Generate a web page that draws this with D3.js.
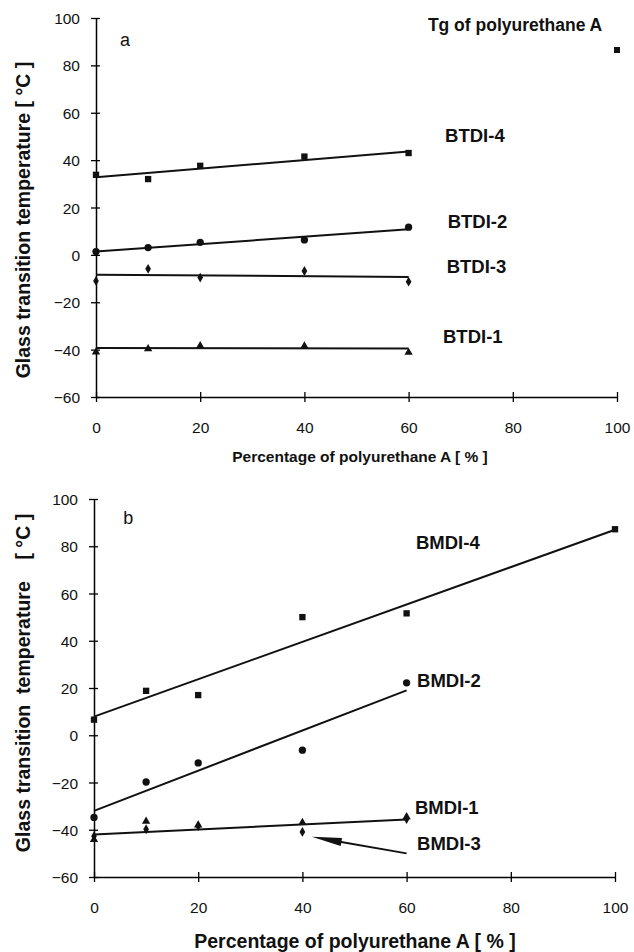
<!DOCTYPE html>
<html>
<head>
<meta charset="utf-8">
<script src="https://cdn.jsdelivr.net/npm/d3@7"></script>
<style>
  body { margin: 0; background: #fff; }
  text { font-family: "Liberation Sans", Arial, sans-serif; fill: #111; }
</style>
</head>
<body>
<div class="root"></div>
<script>
// data
var xs = [0, 10, 20, 40, 60];
var xTicks = [0, 20, 40, 60, 80, 100];
var yTicks = [-60, -40, -20, 0, 20, 40, 60, 80, 100];

var btdi4 = [33.8, 32, 37.6, 41.5, 43];
var btdi2 = [1.4, 3.1, 5.3, 6.3, 11.7];
var btdi3 = [-11, -5.9, -9.6, -6.8, -11.3];
var btdi1 = [-41, -39.7, -38.4, -38.5, -41.2];
var tgA = [100, 86.5];

var btdi4Fit = [32.8, 43.6];
var btdi2Fit = [1.4, 10.8];
var btdi3Fit = [-8.4, -9.3];
var btdi1Fit = [-39.3, -39.5];

var bmdi4 = [6.6, 18.8, 17, 50, 51.6, 87.2];
var bmdi4X = [0, 10, 20, 40, 60, 100];
var bmdi2 = [-34.8, -19.8, -11.7, -6.3, 22.2];
var bmdi1 = [-44.2, -36.4, -38, -37, -34.5];
var bmdi3 = [-42.7, -39.8, -38.4, -40.9, -35.5];

var bmdi4Fit = [7.9, 87];
var bmdi2Fit = [-32, 19];
var bmdi1Fit = [-42, -35.7];

var svg = d3.select('.root').append('svg')
            .attr("width", 634)
            .attr("height", 952);

function markerPath(type, size) {
  var sym = { square: d3.symbolSquare, circle: d3.symbolCircle,
              diamond: d3.symbolDiamond, triangle: d3.symbolTriangle }[type];
  return d3.symbol().type(sym).size(size)();
}

function drawPanel(p) {
  var x = d3.scaleLinear().domain([0, 100]).range([p.x0, p.x1]);
  var y = d3.scaleLinear().domain([-60, 100]).range([p.y0, p.y1]);
  var g = svg.append('g');

  var yAxis = g.append('g')
               .attr("transform", "translate(" + p.x0 + ",0)")
               .call(d3.axisLeft(y).tickValues(yTicks).tickSize(5).tickSizeOuter(0).tickPadding(11));
  yAxis.selectAll('.tick line').attr("x1", 4).attr("stroke-width", 1.3);
  yAxis.selectAll('.tick text').style("font-size", "15.5px").attr("dy", "0.36em");
  yAxis.select('.domain').attr("stroke-width", 1.5);

  var xAxis = g.append('g')
               .attr("transform", "translate(0," + p.y0 + ")")
               .call(d3.axisBottom(x).tickValues(xTicks).tickSize(5).tickSizeOuter(0));
  xAxis.selectAll('.tick line').attr("y1", -5).attr("stroke-width", 1.3);
  xAxis.selectAll('.tick text').style("font-size", "15.5px").attr("y", 30).attr("dy", "0.36em");
  xAxis.select('.domain').attr("stroke-width", 1.5);

  var line = d3.line().x(function (d) { return x(d[0]); }).y(function (d) { return y(d[1]); });

  p.fits.forEach(function (f) {
    g.append('path')
     .attr("d", line([[f.from, f.v[0]], [f.to, f.v[1]]]))
     .attr("stroke", "#111").attr("stroke-width", 2).attr("fill", "none");
  });

  p.series.forEach(function (s) {
    g.selectAll(null)
     .data(s.y.map(function (v, i) { return [s.x[i], v]; }))
     .enter().append('path')
     .attr("d", markerPath(s.type, s.size))
     .attr("transform", function (d) { return "translate(" + x(d[0]) + "," + y(d[1]) + ")"; })
     .attr("fill", "#111");
  });

  p.labels.forEach(function (l) {
    g.append('text')
     .attr("x", x(l.at[0])).attr("y", y(l.at[1]))
     .attr("dy", "0.35em")
     .style("font-size", (l.size || 18.5) + "px")
     .style("font-weight", l.bold === false ? "normal" : "bold")
     .text(l.text);
  });

  g.append('text')
   .attr("transform", "translate(" + p.ytX + "," + p.ytY + ") rotate(-90)")
   .attr("text-anchor", "middle")
   .attr("dy", "0.35em")
   .style("font-size", "19.5px").style("font-weight", "bold")
   .style("white-space", "pre")
   .text(p.yTitle);

  g.append('text')
   .attr("x", p.xtX).attr("y", p.xtY)
   .attr("text-anchor", "middle")
   .attr("dy", "0.35em")
   .style("font-size", p.xtSize + "px").style("font-weight", "bold")
   .text("Percentage of polyurethane A [ % ]");

  return { x: x, y: y, g: g };
}

drawPanel({
  x0: 96, x1: 617, y0: 397, y1: 18,
  ytX: 23, ytY: 220, yTitle: "Glass transition temperature [ °C ]",
  xtX: 360, xtY: 457, xtSize: 15.5,
  fits: [
    { from: 0, to: 60, v: btdi4Fit },
    { from: 0, to: 60, v: btdi2Fit },
    { from: 0, to: 60, v: btdi3Fit },
    { from: 0, to: 60, v: btdi1Fit }
  ],
  series: [
    { x: xs, y: btdi4, type: "square", size: 40 },
    { x: [tgA[0]], y: [tgA[1]], type: "square", size: 36 },
    { x: xs, y: btdi2, type: "circle", size: 42 },
    { x: xs, y: btdi3, type: "diamond", size: 28 },
    { x: xs, y: btdi1, type: "triangle", size: 30 }
  ],
  labels: [
    { text: "a", at: [4.6, 91], size: 18, bold: false },
    { text: "Tg of polyurethane A", at: [63.7, 97], size: 17.5 },
    { text: "BTDI-4", at: [67, 50.5] },
    { text: "BTDI-2", at: [67.5, 14] },
    { text: "BTDI-3", at: [67.3, -5] },
    { text: "BTDI-1", at: [66.6, -34.6] }
  ]
});

var b = drawPanel({
  x0: 94, x1: 615, y0: 877, y1: 499,
  ytX: 23, ytY: 683, yTitle: "Glass transition  temperature    [ °C ]",
  xtX: 355, xtY: 941, xtSize: 19.5,
  fits: [
    { from: 0, to: 100, v: bmdi4Fit },
    { from: 0, to: 60, v: bmdi2Fit },
    { from: 0, to: 60, v: bmdi1Fit }
  ],
  series: [
    { x: bmdi4X, y: bmdi4, type: "square", size: 40 },
    { x: xs, y: bmdi2, type: "circle", size: 42 },
    { x: xs, y: bmdi1, type: "triangle", size: 30 },
    { x: xs, y: bmdi3, type: "diamond", size: 28 }
  ],
  labels: [
    { text: "b", at: [5.6, 92], size: 18, bold: false },
    { text: "BMDI-4", at: [61.8, 81.5] },
    { text: "BMDI-2", at: [62, 23] },
    { text: "BMDI-1", at: [61.6, -30.7] },
    { text: "BMDI-3", at: [62, -45.7] }
  ]
});

// arrow pointing at BMDI-3 point at 40 %
var tail = [60, -50], tip = [41.8, -43];
var tx = b.x(tail[0]), ty = b.y(tail[1]), hx = b.x(tip[0]), hy = b.y(tip[1]);
var ang = Math.atan2(ty - hy, tx - hx);
var hl = 30, hw = 4;
b.g.append('line')
   .attr("x1", tx).attr("y1", ty)
   .attr("x2", hx + Math.cos(ang) * hl * 0.8).attr("y2", hy + Math.sin(ang) * hl * 0.8)
   .attr("stroke", "#111").attr("stroke-width", 2);
b.g.append('path')
   .attr("d", "M" + hx + "," + hy +
              "L" + (hx + Math.cos(ang) * hl - Math.sin(ang) * hw) + "," + (hy + Math.sin(ang) * hl + Math.cos(ang) * hw) +
              "L" + (hx + Math.cos(ang) * hl + Math.sin(ang) * hw) + "," + (hy + Math.sin(ang) * hl - Math.cos(ang) * hw) + "Z")
   .attr("fill", "#111");
</script>
</body>
</html>
